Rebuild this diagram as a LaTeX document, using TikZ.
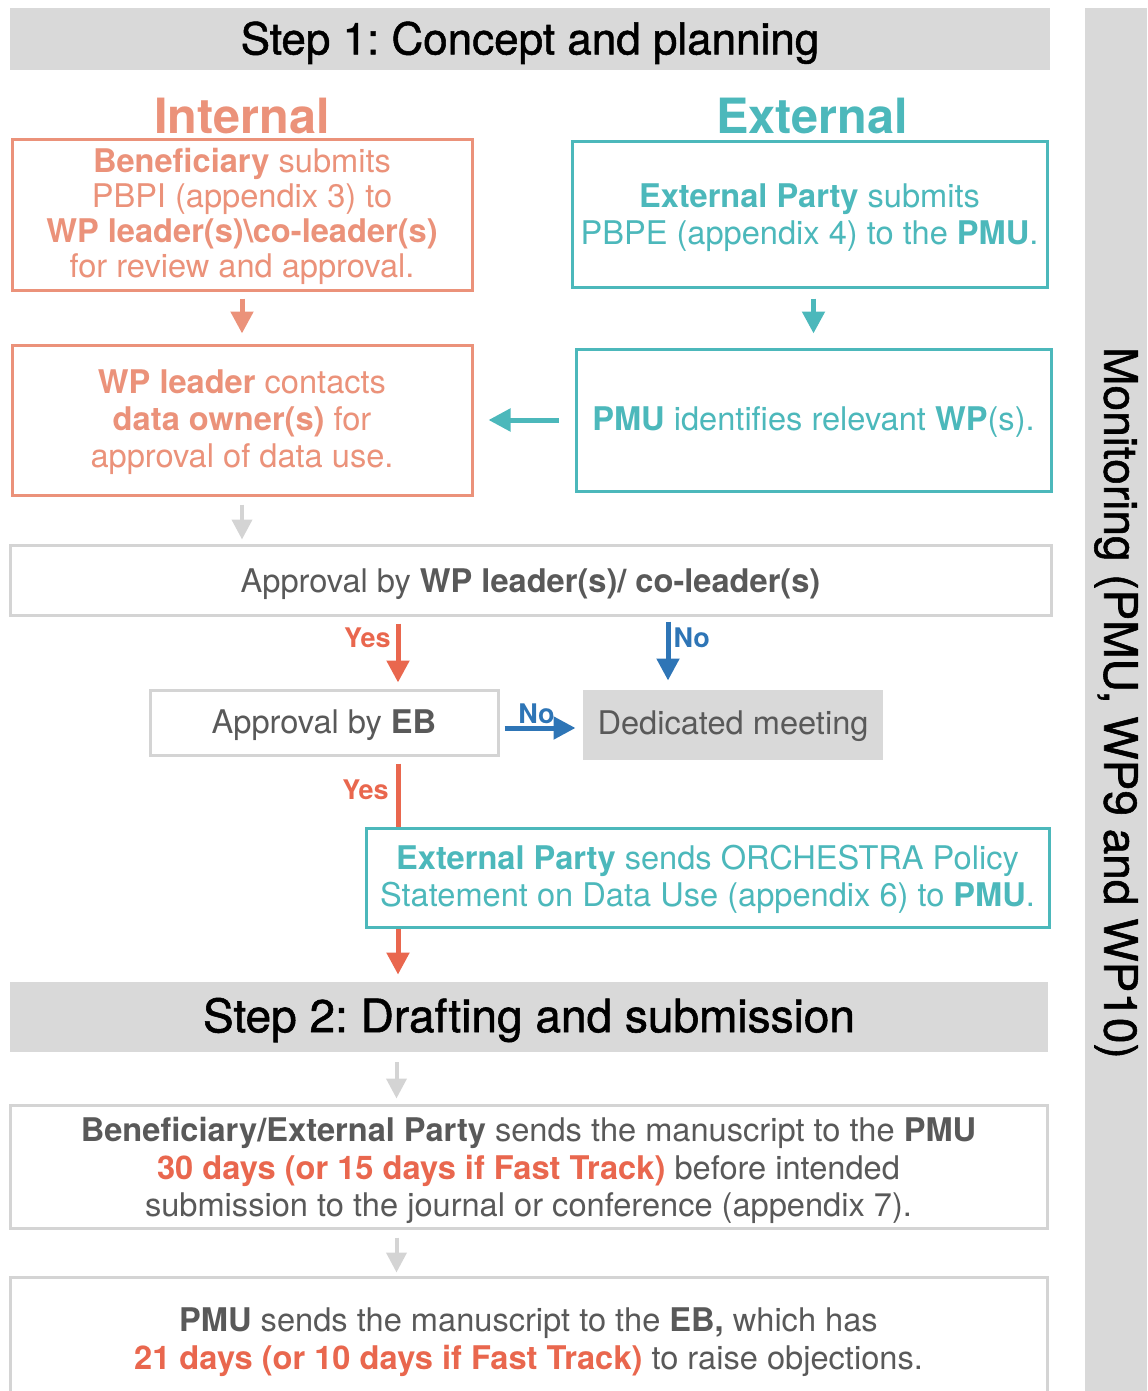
\documentclass[tikz,border=0pt]{standalone}
\usepackage{fontspec}
\setmainfont{TeX Gyre Heros}
\usetikzlibrary{arrows.meta}
\definecolor{salmon}{RGB}{235,146,122}
\definecolor{tealc}{RGB}{76,184,187}
\definecolor{redo}{RGB}{233,103,78}
\definecolor{blueno}{RGB}{46,117,182}
\definecolor{gfill}{RGB}{217,217,217}
\definecolor{gline}{RGB}{212,212,212}
\definecolor{gtext}{RGB}{89,89,89}
\frenchspacing
\newcommand{\shiftdown}[2]{\raisebox{-#1}[\height][\depth]{\begin{tabular}{@{}c@{}}#2\end{tabular}}}
\tikzset{
  x=0.5pt, y=-0.5pt,
  body/.style={font=\fontsize{16.3}{18.5}\selectfont},
  box/.style={body, draw, line width=1.5pt, align=center, inner sep=0pt, fill=white},
  ibox/.style={box, draw=salmon, text=salmon},
  ebox/.style={box, draw=tealc, text=tealc},
  gbox/.style={box, draw=gline, text=gtext},
  header/.style={fill=gfill, inner sep=0pt, text=black},
  colhead/.style={font=\fontsize{24.3}{28}\selectfont\bfseries},
  arr/.style={line width=2.5pt, -{Triangle[width=11pt,length=11pt]}},
  garr/.style={arr, draw=gline, line width=2pt, -{Triangle[width=10pt,length=10pt]}},
  lbl/.style={font=\fontsize{13.5}{15}\selectfont\bfseries, inner sep=0pt},
}
\begin{document}
\begin{tikzpicture}
\path[use as bounding box] (0,0) rectangle (1147,1391);
\clip (0,0) rectangle (1147,1391);

% headers
\node[header, minimum width=520pt, minimum height=31pt, font=\fontsize{22}{26}\selectfont\addfontfeature{FakeBold=1.2}] (s1) at (530,39) {\shiftdown{2.5pt}{Step 1: Concept and planning}};
\node[header, minimum width=519pt, minimum height=35pt, font=\fontsize{23}{27}\selectfont\addfontfeature{FakeBold=1.2}] (s2) at (529,1017) {\shiftdown{2.2pt}{Step 2: Drafting and submission}};
\node[fill=gfill, minimum width=31pt, minimum height=691.5pt, inner sep=0pt] (side) at (1116,699.5) {};
\node[rotate=-90, font=\fontsize{23}{27}\selectfont\addfontfeature{FakeBold=1.2}] (mon) at (1116,703) {Monitoring (PMU, WP9 and WP10)};

% column heads
\node[colhead, text=salmon] (inth) at (242,116) {Internal};
\node[colhead, text=tealc] (exth) at (812,116) {External};

% internal boxes
\node[ibox, minimum width=230pt, minimum height=75pt, font=\fontsize{16.3}{17.6}\selectfont] (ib1) at (242,215)
  {\shiftdown{1.5pt}{\textbf{Beneficiary} submits\\ PBPI (appendix 3) to\\ \textbf{WP leader(s)\textbackslash co-leader(s)}\\ for review and approval.}};
\node[ibox, minimum width=230pt, minimum height=75pt] (ib2) at (242,420)
  {\shiftdown{1.75pt}{\textbf{WP leader} contacts\\ \textbf{data owner(s)} for\\ approval of data use.}};

% external boxes
\node[ebox, minimum width=237.5pt, minimum height=72.5pt] (eb1) at (809.5,214.5)
  {\shiftdown{2pt}{\textbf{External Party} submits\\ PBPE (appendix 4) to the \textbf{PMU}.}};
\node[ebox, minimum width=237.5pt, minimum height=71pt] (eb2) at (813.5,420)
  {\shiftdown{1.5pt}{\textbf{PMU} identifies relevant \textbf{WP}(s).}};

% approvals
\node[gbox, minimum width=520.5pt, minimum height=35pt] (appr) at (530.5,580)
  {\shiftdown{2.5pt}{Approval by \textbf{WP leader(s)/ co-leader(s)}}};
\node[gbox, minimum width=174pt, minimum height=32.5pt] (ebb) at (324,722.5)
  {\shiftdown{1.75pt}{Approval by \textbf{EB}}};
\node[box, draw=none, fill=gfill, text=gtext, minimum width=150pt, minimum height=35pt] (ded) at (733,725)
  {\shiftdown{1pt}{Dedicated meeting}};

\coordinate (yx) at (398,0);
\coordinate (nx) at (668,0);

% arrows step 1
\draw[arr, draw=salmon, shorten <=3.5pt, shorten >=5pt] (ib1.south) -- (ib2.north);
\draw[arr, draw=tealc, shorten <=5pt, shorten >=7pt] (eb2.north |- eb1.south) -- (eb2.north);
\draw[arr, draw=tealc, shorten <=8pt, shorten >=7.5pt] (eb2.west) -- (ib2.east);
\draw[garr, shorten <=4pt, shorten >=2pt] (ib2.south) -- (ib2.south |- appr.north);

\draw[arr, draw=redo, shorten <=3.5pt, shorten >=3pt] (appr.south -| yx) -- (ebb.north -| yx)
  node[lbl, text=redo, pos=0.3, anchor=east, xshift=-2.5pt] (y1) {Yes};
\draw[arr, draw=blueno, shorten <=2.5pt, shorten >=4pt] (appr.south -| nx) -- (ded.north -| nx)
  node[lbl, text=blueno, pos=0.3, anchor=west, xshift=1.5pt] (n1) {No};
\draw[arr, draw=blueno, shorten <=2.5pt, shorten >=3pt] ([yshift=-2.75pt]ebb.east) -- ([yshift=-2.75pt]ebb.east -| ded.west)
  node[lbl, text=blueno, midway, above, yshift=1pt, xshift=-2pt] (n2) {No};

\draw[arr, draw=redo, shorten <=3.5pt, shorten >=3.5pt] (ebb.south -| yx) -- (s2.north -| yx);
\node[lbl, text=redo, anchor=east] (y2) at (389,790) {Yes};

\node[ebox, minimum width=341.5pt, minimum height=49.5pt] (ep) at (707.5,877.5)
  {\shiftdown{1.75pt}{\textbf{External Party} sends ORCHESTRA Policy\\ Statement on Data Use (appendix 6) to \textbf{PMU}.}};

% step 2
\node[gbox, minimum width=518.5pt, minimum height=61.5pt, font=\fontsize{16.3}{18.8}\selectfont] (bb) at (528.5,1166.5)
  {\shiftdown{2.5pt}{\textbf{Beneficiary/External Party} sends the manuscript to the \textbf{PMU}\\
   \textcolor{redo}{\textbf{30 days (or 15 days if Fast Track)}} before intended\\
   submission to the journal or conference (appendix 7).}};
\node[gbox, minimum width=518.5pt, minimum height=61.5pt, font=\fontsize{16.3}{19}\selectfont] (bp) at (528.5,1338.5)
  {\shiftdown{2pt}{\textbf{PMU} sends the manuscript to the \textbf{EB,} which has\\
   \textcolor{redo}{\textbf{21 days (or 10 days if Fast Track)}} to raise objections.}};

\draw[garr, shorten <=5pt, shorten >=2.5pt] (s2.south -| bb.north) ++(-132,0) coordinate (g1) -- (g1 |- bb.north);
\draw[garr, shorten <=4pt, shorten >=1.5pt] (bb.south -| g1) -- (bp.north -| g1);
\end{tikzpicture}
\end{document}
